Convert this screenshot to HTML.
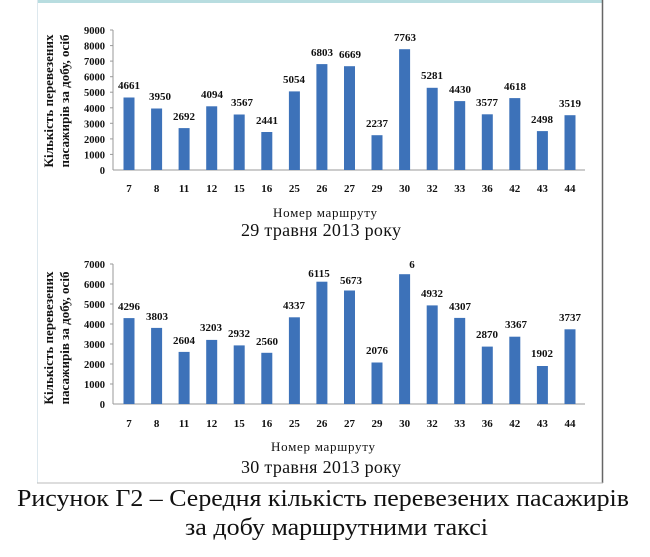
<!DOCTYPE html>
<html><head><meta charset="utf-8"><style>
html,body{margin:0;padding:0;background:#fff;}
svg{display:block;}
text{font-family:"Liberation Serif","DejaVu Serif",serif;fill:#111;}
.v{font-size:11px;font-weight:bold;text-anchor:middle;}
.t{font-size:11px;font-weight:bold;text-anchor:middle;}
.y{font-size:10.5px;font-weight:bold;text-anchor:end;}
rect.b{fill:#3d72b9;}
</style></head><body>
<svg width="650" height="557" viewBox="0 0 650 557">
<rect x="37" y="0" width="566" height="3" fill="#b8dde0"/>
<line x1="37.5" y1="0" x2="37.5" y2="483" stroke="#dde8ee" stroke-width="1"/>
<line x1="602.5" y1="0" x2="602.5" y2="483" stroke="#666" stroke-width="1.5"/>
<line x1="37" y1="483" x2="603" y2="483" stroke="#bbb" stroke-width="1"/>

<g>
<line x1="113" y1="30" x2="113" y2="170" stroke="#999"/>
<line x1="113" y1="170" x2="585" y2="170" stroke="#999"/>
<g stroke="#999">
<line x1="110" y1="30" x2="113" y2="30"/><line x1="110" y1="45.6" x2="113" y2="45.6"/><line x1="110" y1="61.1" x2="113" y2="61.1"/><line x1="110" y1="76.7" x2="113" y2="76.7"/><line x1="110" y1="92.2" x2="113" y2="92.2"/><line x1="110" y1="107.8" x2="113" y2="107.8"/><line x1="110" y1="123.3" x2="113" y2="123.3"/><line x1="110" y1="138.9" x2="113" y2="138.9"/><line x1="110" y1="154.4" x2="113" y2="154.4"/>
</g>
<text class="y" x="105" y="34">9000</text><text class="y" x="105" y="49.6">8000</text><text class="y" x="105" y="65.1">7000</text><text class="y" x="105" y="80.7">6000</text><text class="y" x="105" y="96.2">5000</text><text class="y" x="105" y="111.8">4000</text><text class="y" x="105" y="127.3">3000</text><text class="y" x="105" y="142.9">2000</text><text class="y" x="105" y="158.4">1000</text><text class="y" x="105" y="174">0</text>
<text transform="translate(53,101) rotate(-90)" text-anchor="middle" font-size="13" font-weight="bold" textLength="133">Кількість перевезених</text>
<text transform="translate(69,101) rotate(-90)" text-anchor="middle" font-size="13" font-weight="bold" textLength="133">пасажирів за добу, осіб</text>
<rect class="b" x="123.5" y="97.5" width="11" height="72.5"/>
<rect class="b" x="151.1" y="108.5" width="11" height="61.5"/>
<rect class="b" x="178.6" y="128.1" width="11" height="41.9"/>
<rect class="b" x="206.2" y="106.3" width="11" height="63.7"/>
<rect class="b" x="233.7" y="114.5" width="11" height="55.5"/>
<rect class="b" x="261.3" y="132" width="11" height="38"/>
<rect class="b" x="288.9" y="91.4" width="11" height="78.6"/>
<rect class="b" x="316.4" y="64.1" width="11" height="105.9"/>
<rect class="b" x="344" y="66.2" width="11" height="103.8"/>
<rect class="b" x="371.5" y="135.2" width="11" height="34.8"/>
<rect class="b" x="399.1" y="49.2" width="11" height="120.8"/>
<rect class="b" x="426.7" y="87.8" width="11" height="82.2"/>
<rect class="b" x="454.2" y="101.1" width="11" height="68.9"/>
<rect class="b" x="481.8" y="114.3" width="11" height="55.7"/>
<rect class="b" x="509.3" y="98.1" width="11" height="71.9"/>
<rect class="b" x="536.9" y="131.1" width="11" height="38.9"/>
<rect class="b" x="564.5" y="115.2" width="11" height="54.8"/>
<text class="v" x="129" y="89">4661</text>
<text class="v" x="160" y="100">3950</text>
<text class="v" x="184" y="120">2692</text>
<text class="v" x="212" y="98">4094</text>
<text class="v" x="242" y="106">3567</text>
<text class="v" x="267" y="124">2441</text>
<text class="v" x="294" y="83">5054</text>
<text class="v" x="322" y="56">6803</text>
<text class="v" x="350" y="58">6669</text>
<text class="v" x="377" y="127">2237</text>
<text class="v" x="405" y="41">7763</text>
<text class="v" x="432" y="79">5281</text>
<text class="v" x="460" y="93">4430</text>
<text class="v" x="487" y="106">3577</text>
<text class="v" x="515" y="90">4618</text>
<text class="v" x="542" y="123">2498</text>
<text class="v" x="570" y="107">3519</text>
<text class="t" x="129" y="192">7</text><text class="t" x="156.6" y="192">8</text><text class="t" x="184.1" y="192">11</text><text class="t" x="211.7" y="192">12</text><text class="t" x="239.2" y="192">15</text><text class="t" x="266.8" y="192">16</text><text class="t" x="294.4" y="192">25</text><text class="t" x="321.9" y="192">26</text><text class="t" x="349.5" y="192">27</text><text class="t" x="377" y="192">29</text><text class="t" x="404.6" y="192">30</text><text class="t" x="432.2" y="192">32</text><text class="t" x="459.7" y="192">33</text><text class="t" x="487.3" y="192">36</text><text class="t" x="514.8" y="192">42</text><text class="t" x="542.4" y="192">43</text><text class="t" x="570" y="192">44</text>
<text x="325" y="217" text-anchor="middle" font-size="13" textLength="104">Номер маршруту</text>
<text x="321" y="236" text-anchor="middle" font-size="18" textLength="160">29 травня 2013 року</text>
</g>

<g>
<line x1="113" y1="264" x2="113" y2="404" stroke="#999"/>
<line x1="113" y1="404" x2="585" y2="404" stroke="#999"/>
<g stroke="#999">
<line x1="110" y1="264" x2="113" y2="264"/><line x1="110" y1="284" x2="113" y2="284"/><line x1="110" y1="304" x2="113" y2="304"/><line x1="110" y1="324" x2="113" y2="324"/><line x1="110" y1="344" x2="113" y2="344"/><line x1="110" y1="364" x2="113" y2="364"/><line x1="110" y1="384" x2="113" y2="384"/>
</g>
<text class="y" x="105" y="268">7000</text><text class="y" x="105" y="288">6000</text><text class="y" x="105" y="308">5000</text><text class="y" x="105" y="328">4000</text><text class="y" x="105" y="348">3000</text><text class="y" x="105" y="368">2000</text><text class="y" x="105" y="388">1000</text><text class="y" x="105" y="408">0</text>
<text transform="translate(53,338) rotate(-90)" text-anchor="middle" font-size="13" font-weight="bold" textLength="133">Кількість перевезених</text>
<text transform="translate(69,338) rotate(-90)" text-anchor="middle" font-size="13" font-weight="bold" textLength="133">пасажирів за добу, осіб</text>
<rect class="b" x="123.5" y="318.1" width="11" height="85.9"/>
<rect class="b" x="151.1" y="327.9" width="11" height="76.1"/>
<rect class="b" x="178.6" y="351.9" width="11" height="52.1"/>
<rect class="b" x="206.2" y="339.9" width="11" height="64.1"/>
<rect class="b" x="233.7" y="345.4" width="11" height="58.6"/>
<rect class="b" x="261.3" y="352.8" width="11" height="51.2"/>
<rect class="b" x="288.9" y="317.3" width="11" height="86.7"/>
<rect class="b" x="316.4" y="281.7" width="11" height="122.3"/>
<rect class="b" x="344" y="290.5" width="11" height="113.5"/>
<rect class="b" x="371.5" y="362.5" width="11" height="41.5"/>
<rect class="b" x="399.1" y="274.2" width="11" height="129.8"/>
<rect class="b" x="426.7" y="305.4" width="11" height="98.6"/>
<rect class="b" x="454.2" y="317.9" width="11" height="86.1"/>
<rect class="b" x="481.8" y="346.6" width="11" height="57.4"/>
<rect class="b" x="509.3" y="336.7" width="11" height="67.3"/>
<rect class="b" x="536.9" y="366" width="11" height="38"/>
<rect class="b" x="564.5" y="329.3" width="11" height="74.7"/>
<text class="v" x="129" y="310">4296</text>
<text class="v" x="157" y="320">3803</text>
<text class="v" x="184" y="344">2604</text>
<text class="v" x="211" y="331">3203</text>
<text class="v" x="239" y="337">2932</text>
<text class="v" x="267" y="345">2560</text>
<text class="v" x="294" y="309">4337</text>
<text class="v" x="319" y="277">6115</text>
<text class="v" x="351" y="284">5673</text>
<text class="v" x="377" y="354">2076</text>
<text class="v" x="412" y="268">6</text>
<text class="v" x="432" y="297">4932</text>
<text class="v" x="460" y="310">4307</text>
<text class="v" x="487" y="338">2870</text>
<text class="v" x="516" y="328">3367</text>
<text class="v" x="542" y="357">1902</text>
<text class="v" x="570" y="321">3737</text>
<text class="t" x="129" y="427">7</text><text class="t" x="156.6" y="427">8</text><text class="t" x="184.1" y="427">11</text><text class="t" x="211.7" y="427">12</text><text class="t" x="239.2" y="427">15</text><text class="t" x="266.8" y="427">16</text><text class="t" x="294.4" y="427">25</text><text class="t" x="321.9" y="427">26</text><text class="t" x="349.5" y="427">27</text><text class="t" x="377" y="427">29</text><text class="t" x="404.6" y="427">30</text><text class="t" x="432.2" y="427">32</text><text class="t" x="459.7" y="427">33</text><text class="t" x="487.3" y="427">36</text><text class="t" x="514.8" y="427">42</text><text class="t" x="542.4" y="427">43</text><text class="t" x="570" y="427">44</text>
<text x="323" y="451" text-anchor="middle" font-size="13" textLength="104">Номер маршруту</text>
<text x="321" y="473" text-anchor="middle" font-size="18" textLength="160">30 травня 2013 року</text>
</g>

<text x="17" y="506" font-size="24" textLength="612" lengthAdjust="spacingAndGlyphs">Рисунок Г2 – Середня кількість перевезених пасажирів</text>
<text x="185" y="535" font-size="24" textLength="303" lengthAdjust="spacingAndGlyphs">за добу маршрутними таксі</text>
</svg>
</body></html>
